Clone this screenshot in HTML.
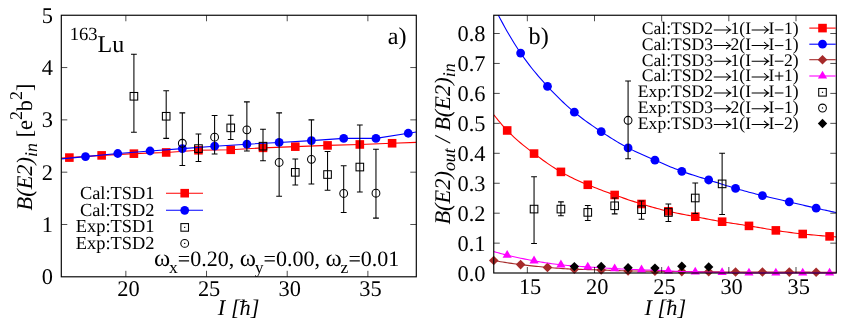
<!DOCTYPE html>
<html><head><meta charset="utf-8"><title>chart</title><style>html,body{margin:0;padding:0;background:#fff}</style></head><body>
<svg width="845" height="329" viewBox="0 0 845 329" style="display:block">
<defs>
<clipPath id="ca"><rect x="61.3" y="15.25" width="355.0" height="261.55"/></clipPath>
<clipPath id="cb"><rect x="493.75" y="15.25" width="342.54999999999995" height="263.75"/></clipPath>
<filter id="tf" x="0" y="0" width="845" height="329" filterUnits="userSpaceOnUse" color-interpolation-filters="sRGB"><feOffset dx="0" dy="0"/></filter>
</defs>
<rect width="845" height="329" fill="#fff"/>
<path d="M61.30 158.13L69.37 157.59L101.64 155.39L133.91 153.66L166.19 152.46L198.46 150.26L230.73 149.79L263.00 147.86L295.28 146.65L327.55 145.40L359.82 144.46L392.10 143.25L416.30 142.35" fill="none" stroke="#ff0000" stroke-width="1.1" stroke-linejoin="round" clip-path="url(#ca)"/>
<rect x="65.07" y="153.29" width="8.60" height="8.60" fill="#ff0000"/>
<rect x="97.34" y="151.09" width="8.60" height="8.60" fill="#ff0000"/>
<rect x="129.61" y="149.36" width="8.60" height="8.60" fill="#ff0000"/>
<rect x="161.89" y="148.16" width="8.60" height="8.60" fill="#ff0000"/>
<rect x="194.16" y="145.96" width="8.60" height="8.60" fill="#ff0000"/>
<rect x="226.43" y="145.49" width="8.60" height="8.60" fill="#ff0000"/>
<rect x="258.70" y="143.56" width="8.60" height="8.60" fill="#ff0000"/>
<rect x="290.98" y="142.35" width="8.60" height="8.60" fill="#ff0000"/>
<rect x="323.25" y="141.10" width="8.60" height="8.60" fill="#ff0000"/>
<rect x="355.52" y="140.16" width="8.60" height="8.60" fill="#ff0000"/>
<rect x="387.80" y="138.95" width="8.60" height="8.60" fill="#ff0000"/>
<path d="M61.30 158.91L85.50 156.59L117.78 153.51L150.05 150.99L182.32 148.59L214.60 146.18L246.87 144.19L279.14 142.47L311.41 140.58L343.69 138.39L375.96 138.39L408.23 133.26L416.30 131.98" fill="none" stroke="#0000ff" stroke-width="1.1" stroke-linejoin="round" clip-path="url(#ca)"/>
<circle cx="85.50" cy="156.59" r="4.40" fill="#0000ff"/>
<circle cx="117.78" cy="153.51" r="4.40" fill="#0000ff"/>
<circle cx="150.05" cy="150.99" r="4.40" fill="#0000ff"/>
<circle cx="182.32" cy="148.59" r="4.40" fill="#0000ff"/>
<circle cx="214.60" cy="146.18" r="4.40" fill="#0000ff"/>
<circle cx="246.87" cy="144.19" r="4.40" fill="#0000ff"/>
<circle cx="279.14" cy="142.47" r="4.40" fill="#0000ff"/>
<circle cx="311.41" cy="140.58" r="4.40" fill="#0000ff"/>
<circle cx="343.69" cy="138.39" r="4.40" fill="#0000ff"/>
<circle cx="375.96" cy="138.39" r="4.40" fill="#0000ff"/>
<circle cx="408.23" cy="133.26" r="4.40" fill="#0000ff"/>
<path d="M133.91 54.27V132.27M131.01 54.27H136.81M131.01 132.27H136.81" fill="none" stroke="#000" stroke-width="1.05"/>
<rect x="130.11" y="92.48" width="7.60" height="7.60" fill="none" stroke="#000" stroke-width="1.05"/>
<path d="M166.19 90.73V138.39M163.29 90.73H169.09M163.29 138.39H169.09" fill="none" stroke="#000" stroke-width="1.05"/>
<rect x="162.39" y="112.46" width="7.60" height="7.60" fill="none" stroke="#000" stroke-width="1.05"/>
<path d="M198.46 133.99V161.46M195.56 133.99H201.36M195.56 161.46H201.36" fill="none" stroke="#000" stroke-width="1.05"/>
<rect x="194.66" y="144.79" width="7.60" height="7.60" fill="none" stroke="#000" stroke-width="1.05"/>
<path d="M230.73 115.27V139.59M227.83 115.27H233.63M227.83 139.59H233.63" fill="none" stroke="#000" stroke-width="1.05"/>
<rect x="226.93" y="124.07" width="7.60" height="7.60" fill="none" stroke="#000" stroke-width="1.05"/>
<path d="M263.00 129.18V160.78M260.10 129.18H265.90M260.10 160.78H265.90" fill="none" stroke="#000" stroke-width="1.05"/>
<rect x="259.20" y="142.38" width="7.60" height="7.60" fill="none" stroke="#000" stroke-width="1.05"/>
<path d="M295.28 158.95V185.00M292.38 158.95H298.18M292.38 185.00H298.18" fill="none" stroke="#000" stroke-width="1.05"/>
<rect x="291.48" y="168.54" width="7.60" height="7.60" fill="none" stroke="#000" stroke-width="1.05"/>
<path d="M327.55 151.47V190.17M324.65 151.47H330.45M324.65 190.17H330.45" fill="none" stroke="#000" stroke-width="1.05"/>
<rect x="323.75" y="170.73" width="7.60" height="7.60" fill="none" stroke="#000" stroke-width="1.05"/>
<path d="M359.82 125.00V192.01M356.92 125.00H362.72M356.92 192.01H362.72" fill="none" stroke="#000" stroke-width="1.05"/>
<rect x="356.02" y="163.25" width="7.60" height="7.60" fill="none" stroke="#000" stroke-width="1.05"/>
<path d="M182.32 112.86V165.59M179.42 112.86H185.22M179.42 165.59H185.22" fill="none" stroke="#000" stroke-width="1.05"/>
<circle cx="182.32" cy="143.25" r="3.90" fill="none" stroke="#000" stroke-width="1.05"/>
<path d="M214.60 115.58V153.98M211.70 115.58H217.50M211.70 153.98H217.50" fill="none" stroke="#000" stroke-width="1.05"/>
<circle cx="214.60" cy="137.18" r="3.90" fill="none" stroke="#000" stroke-width="1.05"/>
<path d="M246.87 101.88V150.99M243.97 101.88H249.77M243.97 150.99H249.77" fill="none" stroke="#000" stroke-width="1.05"/>
<circle cx="246.87" cy="129.86" r="3.90" fill="none" stroke="#000" stroke-width="1.05"/>
<path d="M279.14 112.86V196.19M276.24 112.86H282.04M276.24 196.19H282.04" fill="none" stroke="#000" stroke-width="1.05"/>
<circle cx="279.14" cy="162.45" r="3.90" fill="none" stroke="#000" stroke-width="1.05"/>
<path d="M311.41 119.87V184.05M308.51 119.87H314.31M308.51 184.05H314.31" fill="none" stroke="#000" stroke-width="1.05"/>
<circle cx="311.41" cy="159.36" r="3.90" fill="none" stroke="#000" stroke-width="1.05"/>
<path d="M343.69 165.80V212.41M340.79 165.80H346.59M340.79 212.41H346.59" fill="none" stroke="#000" stroke-width="1.05"/>
<circle cx="343.69" cy="193.47" r="3.90" fill="none" stroke="#000" stroke-width="1.05"/>
<path d="M375.96 149.27V218.11M373.06 149.27H378.86M373.06 218.11H378.86" fill="none" stroke="#000" stroke-width="1.05"/>
<circle cx="375.96" cy="193.21" r="3.90" fill="none" stroke="#000" stroke-width="1.05"/>
<path d="M125.85 276.80v-6.0M125.85 15.25v6.0M206.53 276.80v-6.0M206.53 15.25v6.0M287.21 276.80v-6.0M287.21 15.25v6.0M367.89 276.80v-6.0M367.89 15.25v6.0M61.30 224.49h6.0M416.30 224.49h-6.0M61.30 172.18h6.0M416.30 172.18h-6.0M61.30 119.87h6.0M416.30 119.87h-6.0M61.30 67.56h6.0M416.30 67.56h-6.0" fill="none" stroke="#000" stroke-width="0.7"/>
<rect x="61.30" y="15.25" width="355.00" height="261.55" fill="none" stroke="#000" stroke-width="1.15"/>
<path d="M493.75 114.72L494.87 116.13L495.99 117.53L497.11 118.92L498.23 120.29L499.35 121.64L500.47 122.97L501.59 124.28L502.71 125.56L503.82 126.83L504.94 128.07L506.06 129.28L507.18 130.47L509.42 132.77L511.66 134.97L513.90 137.09L516.14 139.12L518.38 141.09L520.62 143.00L522.86 144.85L525.09 146.66L527.33 148.43L529.57 150.17L531.81 151.88L534.05 153.58L536.29 155.26L538.53 156.92L540.77 158.56L543.01 160.18L545.24 161.77L547.48 163.33L549.72 164.86L551.96 166.35L554.20 167.79L556.44 169.20L558.68 170.56L560.92 171.88L563.16 173.15L565.39 174.37L567.63 175.55L569.87 176.70L572.11 177.81L574.35 178.88L576.59 179.92L578.83 180.94L581.07 181.93L583.31 182.90L585.54 183.85L587.78 184.78L590.02 185.70L592.26 186.60L594.50 187.48L596.74 188.36L598.98 189.22L601.22 190.07L603.46 190.91L605.69 191.74L607.93 192.56L610.17 193.38L612.41 194.18L614.65 194.98L616.89 195.78L619.13 196.57L621.37 197.35L623.61 198.12L625.84 198.89L628.08 199.65L630.32 200.40L632.56 201.13L634.80 201.86L637.04 202.58L639.28 203.29L641.52 203.99L643.76 204.67L645.99 205.34L648.23 206.00L650.47 206.65L652.71 207.28L654.95 207.90L657.19 208.51L659.43 209.09L661.67 209.66L663.91 210.22L666.14 210.76L668.38 211.28L670.62 211.78L672.86 212.27L675.10 212.74L677.34 213.20L679.58 213.65L681.82 214.10L684.06 214.53L686.29 214.97L688.53 215.39L690.77 215.82L693.01 216.25L695.25 216.68L697.49 217.11L699.73 217.54L701.97 217.98L704.21 218.41L706.44 218.84L708.68 219.27L710.92 219.69L713.16 220.11L715.40 220.52L717.64 220.92L719.88 221.31L722.12 221.69L724.36 222.06L726.59 222.42L728.83 222.78L731.07 223.12L733.31 223.47L735.55 223.81L737.79 224.15L740.03 224.49L742.27 224.83L744.51 225.18L746.74 225.53L748.98 225.89L751.22 226.26L753.46 226.63L755.70 227.01L757.94 227.39L760.18 227.77L762.42 228.15L764.66 228.54L766.89 228.92L769.13 229.29L771.37 229.67L773.61 230.03L775.85 230.39L778.09 230.74L780.33 231.09L782.57 231.42L784.81 231.75L787.04 232.06L789.28 232.37L791.52 232.67L793.76 232.95L796.00 233.23L798.24 233.49L800.48 233.75L802.72 233.99L804.96 234.23L807.19 234.45L809.43 234.66L811.67 234.87L813.91 235.07L816.15 235.26L818.39 235.45L820.63 235.64L822.87 235.83L825.11 236.02L827.34 236.20L829.58 236.39L830.14 236.44L830.70 236.49L831.26 236.54L831.82 236.58L832.38 236.63L832.94 236.68L833.50 236.73L834.06 236.78L834.62 236.82L835.18 236.87L835.74 236.92L836.30 236.97" fill="none" stroke="#ff0000" stroke-width="1.1" stroke-linejoin="round" clip-path="url(#cb)"/>
<rect x="502.88" y="126.17" width="8.60" height="8.60" fill="#ff0000"/>
<rect x="529.75" y="149.28" width="8.60" height="8.60" fill="#ff0000"/>
<rect x="556.62" y="167.58" width="8.60" height="8.60" fill="#ff0000"/>
<rect x="583.48" y="180.48" width="8.60" height="8.60" fill="#ff0000"/>
<rect x="610.35" y="190.68" width="8.60" height="8.60" fill="#ff0000"/>
<rect x="637.22" y="199.69" width="8.60" height="8.60" fill="#ff0000"/>
<rect x="664.08" y="206.98" width="8.60" height="8.60" fill="#ff0000"/>
<rect x="690.95" y="212.38" width="8.60" height="8.60" fill="#ff0000"/>
<rect x="717.82" y="217.39" width="8.60" height="8.60" fill="#ff0000"/>
<rect x="744.68" y="221.59" width="8.60" height="8.60" fill="#ff0000"/>
<rect x="771.55" y="226.09" width="8.60" height="8.60" fill="#ff0000"/>
<rect x="798.42" y="229.69" width="8.60" height="8.60" fill="#ff0000"/>
<rect x="825.28" y="232.09" width="8.60" height="8.60" fill="#ff0000"/>
<path d="M493.75 6.25L495.99 10.65L498.23 14.98L500.47 19.22L502.71 23.38L504.94 27.44L507.18 31.41L509.42 35.28L511.66 39.05L513.90 42.71L516.14 46.27L518.38 49.72L520.62 53.06L522.86 56.28L525.09 59.41L527.33 62.43L529.57 65.36L531.81 68.22L534.05 70.99L536.29 73.70L538.53 76.34L540.77 78.92L543.01 81.45L545.24 83.93L547.48 86.36L549.72 88.76L551.96 91.12L554.20 93.44L556.44 95.71L558.68 97.94L560.92 100.12L563.16 102.25L565.39 104.34L567.63 106.37L569.87 108.36L572.11 110.29L574.35 112.17L576.59 114.00L578.83 115.77L581.07 117.51L583.31 119.20L585.54 120.85L587.78 122.47L590.02 124.06L592.26 125.62L594.50 127.16L596.74 128.68L598.98 130.18L601.22 131.67L603.46 133.15L605.69 134.61L607.93 136.05L610.17 137.48L612.41 138.88L614.65 140.26L616.89 141.61L619.13 142.93L621.37 144.22L623.61 145.47L625.84 146.69L628.08 147.88L630.32 149.02L632.56 150.13L634.80 151.21L637.04 152.27L639.28 153.30L641.52 154.31L643.76 155.31L645.99 156.29L648.23 157.27L650.47 158.24L652.71 159.21L654.95 160.18L657.19 161.15L659.43 162.12L661.67 163.10L663.91 164.06L666.14 165.02L668.38 165.97L670.62 166.90L672.86 167.82L675.10 168.72L677.34 169.60L679.58 170.45L681.82 171.28L684.06 172.08L686.29 172.86L688.53 173.62L690.77 174.36L693.01 175.09L695.25 175.80L697.49 176.50L699.73 177.20L701.97 177.89L704.21 178.59L706.44 179.28L708.68 179.98L710.92 180.69L713.16 181.40L715.40 182.11L717.64 182.82L719.88 183.53L722.12 184.24L724.36 184.95L726.59 185.65L728.83 186.35L731.07 187.04L733.31 187.72L735.55 188.38L737.79 189.04L740.03 189.68L742.27 190.32L744.51 190.94L746.74 191.55L748.98 192.16L751.22 192.75L753.46 193.33L755.70 193.91L757.94 194.48L760.18 195.03L762.42 195.58L764.66 196.13L766.89 196.66L769.13 197.20L771.37 197.72L773.61 198.25L775.85 198.77L778.09 199.29L780.33 199.80L782.57 200.32L784.81 200.84L787.04 201.36L789.28 201.89L791.52 202.41L793.76 202.94L796.00 203.47L798.24 204.00L800.48 204.54L802.72 205.07L804.96 205.59L807.19 206.12L809.43 206.64L811.67 207.16L813.91 207.68L816.15 208.19L817.83 208.57L819.51 208.94L821.19 209.31L822.87 209.68L824.55 210.05L826.22 210.41L827.90 210.77L829.58 211.13L831.26 211.49L832.94 211.84L834.62 212.19L836.30 212.54" fill="none" stroke="#0000ff" stroke-width="1.1" stroke-linejoin="round" clip-path="url(#cb)"/>
<circle cx="520.62" cy="53.06" r="4.40" fill="#0000ff"/>
<circle cx="547.48" cy="86.36" r="4.40" fill="#0000ff"/>
<circle cx="574.35" cy="112.17" r="4.40" fill="#0000ff"/>
<circle cx="601.22" cy="131.67" r="4.40" fill="#0000ff"/>
<circle cx="628.08" cy="147.88" r="4.40" fill="#0000ff"/>
<circle cx="654.95" cy="160.18" r="4.40" fill="#0000ff"/>
<circle cx="681.82" cy="171.28" r="4.40" fill="#0000ff"/>
<circle cx="708.68" cy="179.98" r="4.40" fill="#0000ff"/>
<circle cx="735.55" cy="188.38" r="4.40" fill="#0000ff"/>
<circle cx="762.42" cy="195.58" r="4.40" fill="#0000ff"/>
<circle cx="789.28" cy="201.89" r="4.40" fill="#0000ff"/>
<circle cx="816.15" cy="208.19" r="4.40" fill="#0000ff"/>
<path d="M493.75 260.49L495.99 260.90L498.23 261.29L500.47 261.68L502.71 262.05L504.94 262.41L507.18 262.75L509.42 263.09L511.66 263.41L513.90 263.72L516.14 264.02L518.38 264.32L520.62 264.60L522.86 264.87L525.09 265.13L527.33 265.39L529.57 265.64L531.81 265.88L534.05 266.11L536.29 266.34L538.53 266.56L540.77 266.77L543.01 266.98L545.24 267.19L547.48 267.39L549.72 267.58L551.96 267.77L554.20 267.96L556.44 268.13L558.68 268.30L560.92 268.45L563.16 268.60L565.39 268.74L567.63 268.87L569.87 268.99L572.11 269.09L574.35 269.19L576.59 269.28L578.83 269.35L581.07 269.42L583.31 269.49L585.54 269.55L587.78 269.61L590.02 269.67L592.26 269.73L594.50 269.79L596.74 269.86L598.98 269.92L601.22 270.00L603.46 270.08L605.69 270.16L607.93 270.25L610.17 270.34L612.41 270.42L614.65 270.51L616.89 270.58L619.13 270.66L621.37 270.73L623.61 270.79L625.84 270.85L628.08 270.90L630.32 270.94L632.56 270.98L634.80 271.01L637.04 271.03L639.28 271.05L641.52 271.07L643.76 271.09L645.99 271.11L648.23 271.13L650.47 271.15L652.71 271.17L654.95 271.20L657.19 271.23L659.43 271.26L661.67 271.29L663.91 271.33L666.14 271.36L668.38 271.40L670.62 271.44L672.86 271.47L675.10 271.50L677.34 271.53L679.58 271.56L681.82 271.59L684.06 271.61L686.29 271.63L688.53 271.65L690.77 271.67L693.01 271.69L695.25 271.70L697.49 271.72L699.73 271.73L701.97 271.75L704.21 271.76L706.44 271.78L708.68 271.80L710.92 271.82L713.16 271.84L715.40 271.86L717.64 271.88L719.88 271.90L722.12 271.92L724.36 271.94L726.59 271.96L728.83 271.98L731.07 271.99L733.31 272.00L735.55 272.01L737.79 272.02L740.03 272.02L742.27 272.02L744.51 272.02L746.74 272.02L748.98 272.02L751.22 272.02L753.46 272.01L755.70 272.01L757.94 272.01L760.18 272.01L762.42 272.01L764.66 272.01L766.89 272.02L769.13 272.02L771.37 272.03L773.61 272.04L775.85 272.04L778.09 272.05L780.33 272.06L782.57 272.07L784.81 272.08L787.04 272.09L789.28 272.10L791.52 272.11L793.76 272.12L796.00 272.13L798.24 272.13L800.48 272.14L802.72 272.15L804.96 272.16L807.19 272.16L809.43 272.17L811.67 272.18L813.91 272.18L816.15 272.19L817.83 272.19L819.51 272.20L821.19 272.21L822.87 272.21L824.55 272.22L826.22 272.22L827.90 272.23L829.58 272.23L831.26 272.24L832.94 272.24L834.62 272.25L836.30 272.25" fill="none" stroke="#a52a2a" stroke-width="1.1" stroke-linejoin="round" clip-path="url(#cb)"/>
<path d="M493.75 255.69L498.55 260.49L493.75 265.29L488.95 260.49Z" fill="#a52a2a"/>
<path d="M520.62 259.80L525.42 264.60L520.62 269.40L515.82 264.60Z" fill="#a52a2a"/>
<path d="M547.48 262.59L552.28 267.39L547.48 272.19L542.68 267.39Z" fill="#a52a2a"/>
<path d="M574.35 264.39L579.15 269.19L574.35 273.99L569.55 269.19Z" fill="#a52a2a"/>
<path d="M601.22 265.20L606.02 270.00L601.22 274.80L596.42 270.00Z" fill="#a52a2a"/>
<path d="M628.08 266.10L632.88 270.90L628.08 275.70L623.28 270.90Z" fill="#a52a2a"/>
<path d="M654.95 266.40L659.75 271.20L654.95 276.00L650.15 271.20Z" fill="#a52a2a"/>
<path d="M681.82 266.79L686.62 271.59L681.82 276.39L677.02 271.59Z" fill="#a52a2a"/>
<path d="M708.68 267.00L713.48 271.80L708.68 276.60L703.88 271.80Z" fill="#a52a2a"/>
<path d="M735.55 267.21L740.35 272.01L735.55 276.81L730.75 272.01Z" fill="#a52a2a"/>
<path d="M762.42 267.21L767.22 272.01L762.42 276.81L757.62 272.01Z" fill="#a52a2a"/>
<path d="M789.28 267.30L794.08 272.10L789.28 276.90L784.48 272.10Z" fill="#a52a2a"/>
<path d="M816.15 267.39L820.95 272.19L816.15 276.99L811.35 272.19Z" fill="#a52a2a"/>
<path d="M493.75 251.52L494.87 251.86L495.99 252.19L497.11 252.52L498.23 252.84L499.35 253.15L500.47 253.46L501.59 253.76L502.71 254.06L503.82 254.36L504.94 254.65L506.06 254.93L507.18 255.21L509.42 255.75L511.66 256.27L513.90 256.77L516.14 257.26L518.38 257.74L520.62 258.20L522.86 258.65L525.09 259.10L527.33 259.53L529.57 259.96L531.81 260.38L534.05 260.79L536.29 261.19L538.53 261.59L540.77 261.98L543.01 262.35L545.24 262.72L547.48 263.07L549.72 263.40L551.96 263.71L554.20 264.01L556.44 264.30L558.68 264.56L560.92 264.81L563.16 265.04L565.39 265.25L567.63 265.45L569.87 265.64L572.11 265.81L574.35 265.98L576.59 266.15L578.83 266.31L581.07 266.46L583.31 266.61L585.54 266.76L587.78 266.91L590.02 267.06L592.26 267.21L594.50 267.35L596.74 267.50L598.98 267.64L601.22 267.79L603.46 267.93L605.69 268.07L607.93 268.20L610.17 268.33L612.41 268.46L614.65 268.59L616.89 268.71L619.13 268.83L621.37 268.94L623.61 269.06L625.84 269.16L628.08 269.26L630.32 269.36L632.56 269.46L634.80 269.55L637.04 269.63L639.28 269.71L641.52 269.79L643.76 269.86L645.99 269.93L648.23 270.00L650.47 270.07L652.71 270.15L654.95 270.22L657.19 270.30L659.43 270.39L661.67 270.49L663.91 270.59L666.14 270.69L668.38 270.81L670.62 270.93L672.86 271.05L675.10 271.18L677.34 271.30L679.58 271.41L681.82 271.52L684.06 271.63L686.29 271.72L688.53 271.81L690.77 271.88L693.01 271.95L695.25 272.01L697.49 272.06L699.73 272.10L701.97 272.14L704.21 272.18L706.44 272.22L708.68 272.25L710.92 272.29L713.16 272.32L715.40 272.36L717.64 272.40L719.88 272.45L722.12 272.49L724.36 272.54L726.59 272.58L728.83 272.63L731.07 272.67L733.31 272.70L735.55 272.74L737.79 272.76L740.03 272.79L742.27 272.81L744.51 272.83L746.74 272.84L748.98 272.85L751.22 272.86L753.46 272.86L755.70 272.87L757.94 272.87L760.18 272.87L762.42 272.87L764.66 272.86L766.89 272.86L769.13 272.86L771.37 272.86L773.61 272.85L775.85 272.85L778.09 272.85L780.33 272.85L782.57 272.85L784.81 272.85L787.04 272.85L789.28 272.85L791.52 272.85L793.76 272.85L796.00 272.85L798.24 272.85L800.48 272.85L802.72 272.85L804.96 272.85L807.19 272.85L809.43 272.85L811.67 272.85L813.91 272.85L816.15 272.85L818.39 272.85L820.63 272.85L822.87 272.85L825.11 272.85L827.34 272.85L829.58 272.85L830.14 272.85L830.70 272.85L831.26 272.85L831.82 272.85L832.38 272.85L832.94 272.85L833.50 272.85L834.06 272.85L834.62 272.85L835.18 272.85L835.74 272.85L836.30 272.85" fill="none" stroke="#ff00ff" stroke-width="1.1" stroke-linejoin="round" clip-path="url(#cb)"/>
<path d="M507.18 250.01L511.78 257.81L502.58 257.81Z" fill="#ff00ff"/>
<path d="M534.05 255.59L538.65 263.39L529.45 263.39Z" fill="#ff00ff"/>
<path d="M560.92 259.61L565.52 267.41L556.32 267.41Z" fill="#ff00ff"/>
<path d="M587.78 261.71L592.38 269.51L583.18 269.51Z" fill="#ff00ff"/>
<path d="M614.65 263.39L619.25 271.19L610.05 271.19Z" fill="#ff00ff"/>
<path d="M641.52 264.59L646.12 272.39L636.92 272.39Z" fill="#ff00ff"/>
<path d="M668.38 265.61L672.98 273.41L663.78 273.41Z" fill="#ff00ff"/>
<path d="M695.25 266.81L699.85 274.61L690.65 274.61Z" fill="#ff00ff"/>
<path d="M722.12 267.29L726.72 275.09L717.52 275.09Z" fill="#ff00ff"/>
<path d="M748.98 267.65L753.58 275.45L744.38 275.45Z" fill="#ff00ff"/>
<path d="M775.85 267.65L780.45 275.45L771.25 275.45Z" fill="#ff00ff"/>
<path d="M802.72 267.65L807.32 275.45L798.12 275.45Z" fill="#ff00ff"/>
<path d="M829.58 267.65L834.18 275.45L824.98 275.45Z" fill="#ff00ff"/>
<path d="M534.05 176.68V243.59M531.15 176.68H536.95M531.15 243.59H536.95" fill="none" stroke="#000" stroke-width="1.05"/>
<rect x="530.25" y="205.29" width="7.60" height="7.60" fill="none" stroke="#000" stroke-width="1.05"/>
<path d="M560.92 201.89V215.69M558.02 201.89H563.82M558.02 215.69H563.82" fill="none" stroke="#000" stroke-width="1.05"/>
<rect x="557.12" y="205.29" width="7.60" height="7.60" fill="none" stroke="#000" stroke-width="1.05"/>
<path d="M587.78 205.49V220.49M584.88 205.49H590.68M584.88 220.49H590.68" fill="none" stroke="#000" stroke-width="1.05"/>
<rect x="583.98" y="208.59" width="7.60" height="7.60" fill="none" stroke="#000" stroke-width="1.05"/>
<path d="M614.65 197.99V213.89M611.75 197.99H617.55M611.75 213.89H617.55" fill="none" stroke="#000" stroke-width="1.05"/>
<rect x="610.85" y="201.99" width="7.60" height="7.60" fill="none" stroke="#000" stroke-width="1.05"/>
<path d="M641.52 200.99V219.29M638.62 200.99H644.42M638.62 219.29H644.42" fill="none" stroke="#000" stroke-width="1.05"/>
<rect x="637.72" y="205.89" width="7.60" height="7.60" fill="none" stroke="#000" stroke-width="1.05"/>
<path d="M668.38 203.99V221.48M665.48 203.99H671.28M665.48 221.48H671.28" fill="none" stroke="#000" stroke-width="1.05"/>
<rect x="664.58" y="208.68" width="7.60" height="7.60" fill="none" stroke="#000" stroke-width="1.05"/>
<path d="M695.25 182.98V213.59M692.35 182.98H698.15M692.35 213.59H698.15" fill="none" stroke="#000" stroke-width="1.05"/>
<rect x="691.45" y="194.19" width="7.60" height="7.60" fill="none" stroke="#000" stroke-width="1.05"/>
<path d="M722.12 153.28V214.49M719.22 153.28H725.02M719.22 214.49H725.02" fill="none" stroke="#000" stroke-width="1.05"/>
<rect x="718.32" y="180.08" width="7.60" height="7.60" fill="none" stroke="#000" stroke-width="1.05"/>
<path d="M628.08 80.96V158.68M625.18 80.96H630.98M625.18 158.68H630.98" fill="none" stroke="#000" stroke-width="1.05"/>
<circle cx="628.08" cy="120.27" r="3.90" fill="none" stroke="#000" stroke-width="1.05"/>
<path d="M574.35 261.91L579.05 266.61L574.35 271.31L569.65 266.61Z" fill="#000"/>
<path d="M601.22 261.79L605.92 266.49L601.22 271.19L596.52 266.49Z" fill="#000"/>
<path d="M628.08 263.05L632.78 267.75L628.08 272.45L623.38 267.75Z" fill="#000"/>
<path d="M654.95 263.41L659.65 268.11L654.95 272.81L650.25 268.11Z" fill="#000"/>
<path d="M681.82 261.61L686.52 266.31L681.82 271.01L677.12 266.31Z" fill="#000"/>
<path d="M708.68 262.21L713.38 266.91L708.68 271.61L703.98 266.91Z" fill="#000"/>
<path d="M527.33 273.00v-6.0M527.33 15.25v6.0M594.50 273.00v-6.0M594.50 15.25v6.0M661.67 273.00v-6.0M661.67 15.25v6.0M728.83 273.00v-6.0M728.83 15.25v6.0M796.00 273.00v-6.0M796.00 15.25v6.0M493.75 243.15h6.0M836.30 243.15h-6.0M493.75 213.20h6.0M836.30 213.20h-6.0M493.75 183.25h6.0M836.30 183.25h-6.0M493.75 153.30h6.0M836.30 153.30h-6.0M493.75 123.35h6.0M836.30 123.35h-6.0M493.75 93.40h6.0M836.30 93.40h-6.0M493.75 63.45h6.0M836.30 63.45h-6.0M493.75 33.50h6.0M836.30 33.50h-6.0" fill="none" stroke="#000" stroke-width="0.7"/>
<rect x="493.75" y="15.25" width="342.55" height="257.75" fill="none" stroke="#000" stroke-width="1.15"/>
<g font-family="Liberation Serif, serif" fill="#000" style="font-kerning:none;white-space:pre;text-rendering:geometricPrecision" filter="url(#tf)">
<text x="117.25" y="296.00" font-size="22.4">20</text>
<text x="197.93" y="296.00" font-size="22.4">25</text>
<text x="278.61" y="296.00" font-size="22.4">30</text>
<text x="359.29" y="296.00" font-size="22.4">35</text>
<text x="41.80" y="284.40" font-size="22.4">0</text>
<text x="41.80" y="232.09" font-size="22.4">1</text>
<text x="41.80" y="179.78" font-size="22.4">2</text>
<text x="41.80" y="127.47" font-size="22.4">3</text>
<text x="41.80" y="75.16" font-size="22.4">4</text>
<text x="41.80" y="22.85" font-size="22.4">5</text>
<text x="518.93" y="294.00" font-size="22.4">15</text>
<text x="586.10" y="294.00" font-size="22.4">20</text>
<text x="653.27" y="294.00" font-size="22.4">25</text>
<text x="720.43" y="294.00" font-size="22.4">30</text>
<text x="787.60" y="294.00" font-size="22.4">35</text>
<text x="457.50" y="280.70" font-size="22.4">0.0</text>
<text x="457.50" y="250.75" font-size="22.4">0.1</text>
<text x="457.50" y="220.80" font-size="22.4">0.2</text>
<text x="457.50" y="190.85" font-size="22.4">0.3</text>
<text x="457.50" y="160.90" font-size="22.4">0.4</text>
<text x="457.50" y="130.95" font-size="22.4">0.5</text>
<text x="457.50" y="101.00" font-size="22.4">0.6</text>
<text x="457.50" y="71.05" font-size="22.4">0.7</text>
<text x="457.50" y="41.10" font-size="22.4">0.8</text>
<text x="217.85" y="315.10" font-size="22.4" font-style="italic">I</text>
<text x="230.91" y="315.10" font-size="22.4" font-style="italic">[h]</text>
<path d="M240.03 301.50h7.2" stroke="#000" stroke-width="0.9" fill="none"/>
<text x="644.45" y="314.90" font-size="22.4" font-style="italic">I</text>
<text x="657.51" y="314.90" font-size="22.4" font-style="italic">[h]</text>
<path d="M666.63 301.30h7.2" stroke="#000" stroke-width="0.9" fill="none"/>
<g transform="translate(31.90,147.00) rotate(-90)">
<text x="-63.48" y="0.00" font-size="22.4" font-style="italic">B(E2)</text>
<text x="-10.00" y="5.20" font-size="17.9" font-style="italic">in</text>
<text x="9.52" y="0.00" font-size="22.4">[e</text>
<text x="26.92" y="-10.00" font-size="17.9">2</text>
<text x="35.87" y="0.00" font-size="22.4">b</text>
<text x="47.07" y="-10.00" font-size="17.9">2</text>
<text x="56.02" y="0.00" font-size="22.4">]</text>
</g>
<g transform="translate(449.60,144.00) rotate(-90)">
<text x="-80.59" y="0.00" font-size="22.4" font-style="italic">B(E2)</text>
<text x="-27.11" y="5.20" font-size="17.9" font-style="italic">out</text>
<text x="1.36" y="0.00" font-size="22.4" font-style="italic">/</text>
<text x="13.19" y="0.00" font-size="22.4" font-style="italic">B(E2)</text>
<text x="66.67" y="5.20" font-size="17.9" font-style="italic">in</text>
</g>
<text x="69.70" y="39.80" font-size="18.6">163</text>
<text x="97.60" y="52.00" font-size="24.0">Lu</text>
<text x="387.80" y="44.20" font-size="24.2">a)</text>
<text x="528.60" y="44.10" font-size="24.2">b)</text>
<text x="153.90" y="266.20" font-size="24.6">ω</text>
<text x="169.00" y="272.80" font-size="17.6">x</text>
<text x="177.80" y="266.20" font-size="22.0">=0.20,</text>
<text x="239.71" y="266.20" font-size="24.6">ω</text>
<text x="254.81" y="272.80" font-size="17.6">y</text>
<text x="263.61" y="266.20" font-size="22.0">=0.00,</text>
<text x="325.51" y="266.20" font-size="24.6">ω</text>
<text x="340.61" y="272.80" font-size="17.6">z</text>
<text x="348.43" y="266.20" font-size="22.0">=0.01</text>
<text x="79.88" y="199.30" font-size="18.4">Cal:TSD1</text>
<text x="79.88" y="215.90" font-size="18.4">Cal:TSD2</text>
<text x="75.79" y="232.40" font-size="18.4">Exp:TSD1</text>
<text x="75.79" y="248.90" font-size="18.4">Exp:TSD2</text>
<text x="641.77" y="34.20" font-size="17.6">Cal:TSD2</text>
<path d="M713.77 29.89H730.35M726.18 26.28Q728.23 28.63 730.75 29.89Q728.23 31.15 726.18 33.50" fill="none" stroke="#000" stroke-width="1.02" stroke-linejoin="miter"/>
<text x="730.52" y="34.20" font-size="17.6">1(I</text>
<path d="M751.66 29.89H768.24M764.07 26.28Q766.13 28.63 768.64 29.89Q766.13 31.15 764.07 33.50" fill="none" stroke="#000" stroke-width="1.02" stroke-linejoin="miter"/>
<text x="768.42" y="34.20" font-size="17.6">I</text>
<path d="M774.80 29.89H783.43" fill="none" stroke="#000" stroke-width="1.02"/>
<text x="783.94" y="34.20" font-size="17.6">1)</text>
<text x="641.77" y="49.90" font-size="17.6">Cal:TSD3</text>
<path d="M713.77 45.59H730.35M726.18 41.98Q728.23 44.33 730.75 45.59Q728.23 46.85 726.18 49.20" fill="none" stroke="#000" stroke-width="1.02" stroke-linejoin="miter"/>
<text x="730.52" y="49.90" font-size="17.6">2(I</text>
<path d="M751.66 45.59H768.24M764.07 41.98Q766.13 44.33 768.64 45.59Q766.13 46.85 764.07 49.20" fill="none" stroke="#000" stroke-width="1.02" stroke-linejoin="miter"/>
<text x="768.42" y="49.90" font-size="17.6">I</text>
<path d="M774.80 45.59H783.43" fill="none" stroke="#000" stroke-width="1.02"/>
<text x="783.94" y="49.90" font-size="17.6">1)</text>
<text x="641.77" y="65.50" font-size="17.6">Cal:TSD3</text>
<path d="M713.77 61.19H730.35M726.18 57.58Q728.23 59.93 730.75 61.19Q728.23 62.45 726.18 64.80" fill="none" stroke="#000" stroke-width="1.02" stroke-linejoin="miter"/>
<text x="730.52" y="65.50" font-size="17.6">1(I</text>
<path d="M751.66 61.19H768.24M764.07 57.58Q766.13 59.93 768.64 61.19Q766.13 62.45 764.07 64.80" fill="none" stroke="#000" stroke-width="1.02" stroke-linejoin="miter"/>
<text x="768.42" y="65.50" font-size="17.6">I</text>
<path d="M774.80 61.19H783.43" fill="none" stroke="#000" stroke-width="1.02"/>
<text x="783.94" y="65.50" font-size="17.6">2)</text>
<text x="641.77" y="81.20" font-size="17.6">Cal:TSD2</text>
<path d="M713.77 76.89H730.35M726.18 73.28Q728.23 75.63 730.75 76.89Q728.23 78.15 726.18 80.50" fill="none" stroke="#000" stroke-width="1.02" stroke-linejoin="miter"/>
<text x="730.52" y="81.20" font-size="17.6">1(I</text>
<path d="M751.66 76.89H768.24M764.07 73.28Q766.13 75.63 768.64 76.89Q766.13 78.15 764.07 80.50" fill="none" stroke="#000" stroke-width="1.02" stroke-linejoin="miter"/>
<text x="768.42" y="81.20" font-size="17.6">I</text>
<path d="M774.80 76.10H783.42M779.11 71.78V80.41" fill="none" stroke="#000" stroke-width="1.02"/>
<text x="783.94" y="81.20" font-size="17.6">1)</text>
<text x="637.86" y="97.30" font-size="17.6">Exp:TSD2</text>
<path d="M713.77 92.99H730.35M726.18 89.38Q728.23 91.73 730.75 92.99Q728.23 94.25 726.18 96.60" fill="none" stroke="#000" stroke-width="1.02" stroke-linejoin="miter"/>
<text x="730.52" y="97.30" font-size="17.6">1(I</text>
<path d="M751.66 92.99H768.24M764.07 89.38Q766.13 91.73 768.64 92.99Q766.13 94.25 764.07 96.60" fill="none" stroke="#000" stroke-width="1.02" stroke-linejoin="miter"/>
<text x="768.42" y="97.30" font-size="17.6">I</text>
<path d="M774.80 92.99H783.43" fill="none" stroke="#000" stroke-width="1.02"/>
<text x="783.94" y="97.30" font-size="17.6">1)</text>
<text x="637.86" y="113.00" font-size="17.6">Exp:TSD3</text>
<path d="M713.77 108.69H730.35M726.18 105.08Q728.23 107.43 730.75 108.69Q728.23 109.95 726.18 112.30" fill="none" stroke="#000" stroke-width="1.02" stroke-linejoin="miter"/>
<text x="730.52" y="113.00" font-size="17.6">2(I</text>
<path d="M751.66 108.69H768.24M764.07 105.08Q766.13 107.43 768.64 108.69Q766.13 109.95 764.07 112.30" fill="none" stroke="#000" stroke-width="1.02" stroke-linejoin="miter"/>
<text x="768.42" y="113.00" font-size="17.6">I</text>
<path d="M774.80 108.69H783.43" fill="none" stroke="#000" stroke-width="1.02"/>
<text x="783.94" y="113.00" font-size="17.6">1)</text>
<text x="637.86" y="128.80" font-size="17.6">Exp:TSD3</text>
<path d="M713.77 124.49H730.35M726.18 120.88Q728.23 123.23 730.75 124.49Q728.23 125.75 726.18 128.10" fill="none" stroke="#000" stroke-width="1.02" stroke-linejoin="miter"/>
<text x="730.52" y="128.80" font-size="17.6">1(I</text>
<path d="M751.66 124.49H768.24M764.07 120.88Q766.13 123.23 768.64 124.49Q766.13 125.75 764.07 128.10" fill="none" stroke="#000" stroke-width="1.02" stroke-linejoin="miter"/>
<text x="768.42" y="128.80" font-size="17.6">I</text>
<path d="M774.80 124.49H783.43" fill="none" stroke="#000" stroke-width="1.02"/>
<text x="783.94" y="128.80" font-size="17.6">2)</text>
</g>
<path d="M166.00 193.20L203.00 193.20" fill="none" stroke="#ff0000" stroke-width="1.1" stroke-linejoin="round"/>
<rect x="180.40" y="188.90" width="8.60" height="8.60" fill="#ff0000"/>
<path d="M166.00 210.30L203.00 210.30" fill="none" stroke="#0000ff" stroke-width="1.1" stroke-linejoin="round"/>
<circle cx="184.70" cy="210.30" r="4.40" fill="#0000ff"/>
<rect x="180.90" y="223.60" width="7.60" height="7.60" fill="none" stroke="#000" stroke-width="1.05"/>
<rect x="184.10" y="226.80" width="1.2" height="1.2" fill="#000"/>
<circle cx="184.70" cy="243.40" r="3.90" fill="none" stroke="#000" stroke-width="1.05"/>
<rect x="184.10" y="242.80" width="1.2" height="1.2" fill="#000"/>
<path d="M809.30 28.10L835.80 28.10" fill="none" stroke="#ff0000" stroke-width="1.1" stroke-linejoin="round"/>
<rect x="818.20" y="23.80" width="8.60" height="8.60" fill="#ff0000"/>
<path d="M809.30 44.20L835.80 44.20" fill="none" stroke="#0000ff" stroke-width="1.1" stroke-linejoin="round"/>
<circle cx="822.50" cy="44.20" r="4.40" fill="#0000ff"/>
<path d="M809.30 59.70L835.80 59.70" fill="none" stroke="#a52a2a" stroke-width="1.1" stroke-linejoin="round"/>
<path d="M822.50 54.90L827.30 59.70L822.50 64.50L817.70 59.70Z" fill="#a52a2a"/>
<path d="M809.30 76.00L835.80 76.00" fill="none" stroke="#ff00ff" stroke-width="1.1" stroke-linejoin="round"/>
<path d="M822.50 70.80L827.10 78.60L817.90 78.60Z" fill="#ff00ff"/>
<rect x="818.70" y="88.50" width="7.60" height="7.60" fill="none" stroke="#000" stroke-width="1.05"/>
<rect x="821.90" y="91.70" width="1.2" height="1.2" fill="#000"/>
<circle cx="822.50" cy="108.00" r="3.90" fill="none" stroke="#000" stroke-width="1.05"/>
<rect x="821.90" y="107.40" width="1.2" height="1.2" fill="#000"/>
<path d="M822.50 118.80L827.20 123.50L822.50 128.20L817.80 123.50Z" fill="#000"/>
</svg>
</body></html>
